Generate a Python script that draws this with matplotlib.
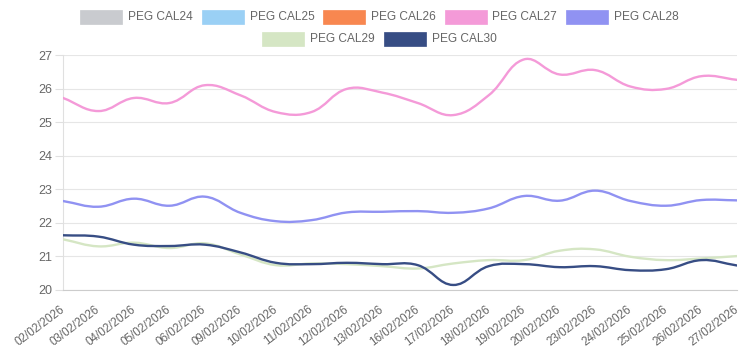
import matplotlib
matplotlib.use("Agg")
import matplotlib.pyplot as plt
from matplotlib.patches import PathPatch, Rectangle
from matplotlib.path import Path
from matplotlib.transforms import Affine2D
import numpy as np

dates = ["02/02/2026", "03/02/2026", "04/02/2026", "05/02/2026", "06/02/2026",
         "09/02/2026", "10/02/2026", "11/02/2026", "12/02/2026", "13/02/2026",
         "16/02/2026", "17/02/2026", "18/02/2026", "19/02/2026", "20/02/2026",
         "23/02/2026", "24/02/2026", "25/02/2026", "26/02/2026", "27/02/2026"]

cal24 = []
cal25 = []
cal26 = []
cal27 = [25.72, 25.33, 25.72, 25.57, 26.10, 25.80, 25.30, 25.30, 25.99, 25.88,
         25.57, 25.21, 25.80, 26.87, 26.42, 26.55, 26.06, 25.99, 26.37, 26.26]
cal28 = [22.65, 22.48, 22.72, 22.51, 22.78, 22.30, 22.05, 22.08, 22.31, 22.33,
         22.35, 22.30, 22.43, 22.80, 22.66, 22.96, 22.65, 22.51, 22.68, 22.67]
cal29 = [21.51, 21.30, 21.41, 21.25, 21.39, 21.06, 20.74, 20.79, 20.77, 20.71,
         20.64, 20.79, 20.89, 20.89, 21.17, 21.21, 20.99, 20.89, 20.94, 21.01]
cal30 = [21.63, 21.59, 21.35, 21.31, 21.35, 21.12, 20.81, 20.77, 20.81, 20.77,
         20.74, 20.15, 20.71, 20.77, 20.68, 20.71, 20.59, 20.62, 20.89, 20.73]

names = ["PEG CAL24", "PEG CAL25", "PEG CAL26", "PEG CAL27", "PEG CAL28",
         "PEG CAL29", "PEG CAL30"]
colors = ["#c9cbcf", "#9ad0f5", "#f88750", "#f49ad8", "#9092f2",
          "#d5e6c4", "#374d84"]
series = [cal24, cal25, cal26, cal27, cal28, cal29, cal30]

plt.rcParams["font.family"] = ["Liberation Sans", "DejaVu Sans"]

# pixel scale used for the spline (chart.js style tension curve)
SX, SY = 35.5, 33.6


def spline_path(xs, ys, tension=0.4):
    px = np.asarray(xs, float) * SX
    py = np.asarray(ys, float) * SY
    n = len(px)
    cprev = np.zeros((n, 2))
    cnext = np.zeros((n, 2))
    for i in range(n):
        p0 = (px[max(i - 1, 0)], py[max(i - 1, 0)])
        p1 = (px[i], py[i])
        p2 = (px[min(i + 1, n - 1)], py[min(i + 1, n - 1)])
        d01 = np.hypot(p1[0] - p0[0], p1[1] - p0[1])
        d12 = np.hypot(p2[0] - p1[0], p2[1] - p1[1])
        tot = d01 + d12
        s01 = d01 / tot if tot else 0
        s12 = d12 / tot if tot else 0
        fa, fb = tension * s01, tension * s12
        cprev[i] = (p1[0] - fa * (p2[0] - p0[0]), p1[1] - fa * (p2[1] - p0[1]))
        cnext[i] = (p1[0] + fb * (p2[0] - p0[0]), p1[1] + fb * (p2[1] - p0[1]))
    verts = [(px[0], py[0])]
    codes = [Path.MOVETO]
    for i in range(n - 1):
        verts += [tuple(cnext[i]), tuple(cprev[i + 1]), (px[i + 1], py[i + 1])]
        codes += [Path.CURVE4] * 3
    verts = [(x / SX, y / SY) for x, y in verts]
    return Path(verts, codes)


W, H = 754, 362
fig = plt.figure(figsize=(W / 100, H / 100), dpi=100)
ax = fig.add_axes([63 / W, 1 - 290 / H, (737 - 63) / W, (290 - 55) / H])

x = np.arange(len(dates))
for vals, col in zip(series, colors):
    if len(vals) == 0:
        continue
    ax.add_patch(PathPatch(spline_path(x, vals), facecolor="none",
                           edgecolor=col, lw=1.7, zorder=3,
                           capstyle="round", joinstyle="round"))

ax.set_xlim(0, len(dates) - 1)
ax.set_ylim(20, 27)
ax.set_yticks(range(20, 28))
ax.set_xticks(x)
ax.set_xticklabels(dates, rotation=37, ha="right", va="center",
                   rotation_mode="anchor")
ax.tick_params(axis="x", length=0, pad=13, labelsize=8.4, colors="#666666")
ax.tick_params(axis="y", length=6, width=0.8, color="#e0e0e0", pad=2,
               labelsize=9, labelcolor="#666666")
ax.grid(axis="y", color="#e6e6e6", lw=0.8)
ax.set_axisbelow(True)
for s in ["top", "right"]:
    ax.spines[s].set_visible(False)
ax.spines["left"].set_color("#e0e0e0")
ax.spines["bottom"].set_color("#cccccc")

# legend drawn chart.js style: two centred rows of coloured boxes
px_tr = Affine2D().scale(1 / W, -1 / H).translate(0, 1) + fig.transFigure
rows = [(80, 10, range(0, 5)), (262, 32, range(5, 7))]
for x0, y0, idx in rows:
    for k, i in enumerate(idx):
        bx = x0 + k * 121.5
        fig.add_artist(Rectangle((bx, y0), 42, 14, transform=px_tr,
                                 facecolor=colors[i], edgecolor=colors[i],
                                 lw=0.5))
        fig.text(bx + 48, y0 + 7.5, names[i], transform=px_tr,
                 ha="left", va="center", fontsize=8.6, color="#666666")

fig.savefig("out.png", dpi=100)
